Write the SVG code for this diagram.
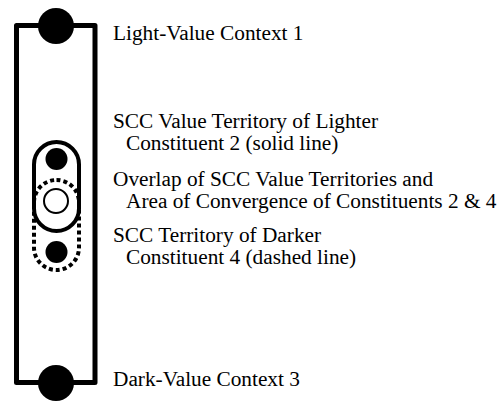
<svg xmlns="http://www.w3.org/2000/svg" width="500" height="401" viewBox="0 0 500 401">
<style>
.t{font-family:"Liberation Serif","Times New Roman",serif;font-size:21.3px;fill:#000}
.frame{fill:none;stroke:#000;stroke-width:5;stroke-linejoin:round}
.solid{fill:none;stroke:#000;stroke-width:4}
.dash{fill:none;stroke:#000;stroke-width:4;stroke-dasharray:4 3}
.dot{fill:#000}
.hollow{fill:#fff;stroke:#000;stroke-width:2}
</style>
<g id="frame">
<rect class="frame" x="16.5" y="25.5" width="78.5" height="357"/>
</g>
<g id="context1">
<circle class="dot" cx="56" cy="26" r="18"/>
<text class="t" x="113" y="40">Light-Value Context 1</text>
</g>
<g id="context3">
<circle class="dot" cx="56" cy="383" r="18"/>
<text class="t" x="113" y="386">Dark-Value Context 3</text>
</g>
<g id="territory2">
<rect class="solid" x="34" y="142" width="45" height="89" rx="22.5"/>
<circle class="dot" cx="56.5" cy="159" r="11"/>
<text class="t" x="113" y="128">SCC Value Territory of Lighter</text>
<text class="t" x="126" y="150">Constituent 2 (solid line)</text>
</g>
<g id="territory4">
<rect class="dash" x="34" y="180" width="45" height="90" rx="22.5"/>
<circle class="dot" cx="56.5" cy="252" r="11"/>
<text class="t" x="113" y="242">SCC Territory of Darker</text>
<text class="t" x="126" y="264">Constituent 4 (dashed line)</text>
</g>
<g id="overlap">
<circle class="hollow" cx="56" cy="201" r="12"/>
<text class="t" x="113" y="186">Overlap of SCC Value Territories and</text>
<text class="t" x="126" y="208">Area of Convergence of Constituents 2 &amp; 4</text>
</g>
<g id="connectors"/>
</svg>
